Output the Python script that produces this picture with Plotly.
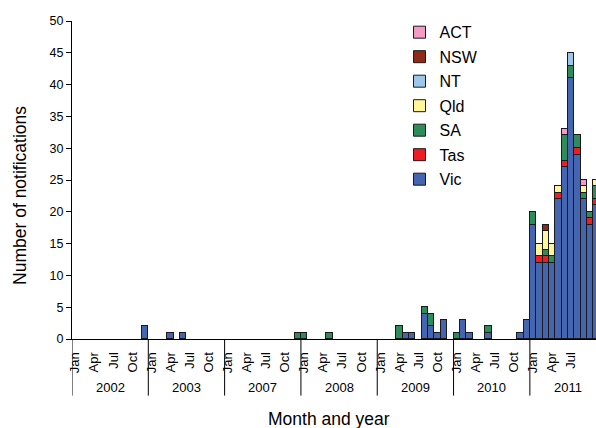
import plotly.graph_objects as go

years = ["2002", "2003", "2007", "2008", "2009", "2010", "2011"]
month_names = ["Jan", "Feb", "Mar", "Apr", "May", "Jun", "Jul", "Aug", "Sep", "Oct", "Nov", "Dec"]
labelled_months = ["Jan", "Apr", "Jul", "Oct"]

# Monthly notifications by state, one row of 12 months per year (2002, 2003, 2007, 2008, 2009, 2010, 2011)
vic = (
    [0, 0, 0, 0, 0, 0, 0, 0, 0, 0, 0, 2]
    + [0, 0, 0, 1, 0, 1, 0, 0, 0, 0, 0, 0]
    + [0, 0, 0, 0, 0, 0, 0, 0, 0, 0, 0, 0]
    + [0, 0, 0, 0, 0, 0, 0, 0, 0, 0, 0, 0]
    + [0, 0, 0, 0, 1, 1, 0, 4, 2, 1, 3, 0]
    + [0, 3, 1, 0, 0, 1, 0, 0, 0, 0, 1, 3]
    + [18, 12, 12, 12, 22, 27, 41, 29, 22, 18, 21, 0]
)
tas = [0] * 72 + [0, 1, 1, 0, 1, 1, 0, 1, 0, 1, 1, 0]
sa = (
    [0] * 12
    + [0] * 12
    + [0, 0, 0, 0, 0, 0, 0, 0, 0, 0, 0, 1]
    + [1, 0, 0, 0, 1, 0, 0, 0, 0, 0, 0, 0]
    + [0, 0, 0, 2, 0, 0, 0, 1, 2, 0, 0, 0]
    + [1, 0, 0, 0, 0, 1, 0, 0, 0, 0, 0, 0]
    + [2, 0, 1, 1, 0, 4, 2, 2, 1, 1, 2, 0]
)
qld = [0] * 72 + [0, 2, 3, 2, 1, 0, 0, 0, 1, 0, 1, 0]
nt = [0] * 72 + [0, 0, 0, 0, 0, 0, 2, 0, 0, 0, 0, 0]
nsw = [0] * 72 + [0, 0, 1, 0, 0, 0, 0, 0, 0, 0, 0, 0]
act = [0] * 72 + [0, 0, 0, 0, 0, 1, 0, 0, 1, 0, 0, 0]

series = [
    ("Vic", vic, "#4565B0"),
    ("Tas", tas, "#EE1D25"),
    ("SA", sa, "#2E8B5A"),
    ("Qld", qld, "#FFF599"),
    ("NT", nt, "#9DC6EA"),
    ("NSW", nsw, "#8E2A17"),
    ("ACT", act, "#F59AC4"),
]

n_months = len(years) * 12
x = list(range(n_months))

fig = go.Figure()
for i, (name, vals, color) in enumerate(series):
    fig.add_trace(go.Bar(
        x=x,
        y=[v if v else None for v in vals],
        name=name,
        legendgroup=name,
        legendrank=len(series) - i,
        marker=dict(color=color, line=dict(color="#1a1a1a", width=1)),
    ))

tickvals = []
ticktext = []
for k in range(len(years)):
    for m in labelled_months:
        tickvals.append(12 * k + month_names.index(m))
        ticktext.append(m)

font_family = "Liberation Sans, Arial, sans-serif"

shapes = []
for k in range(len(years) + 1):
    shapes.append(dict(type="line", xref="x", yref="paper",
                       x0=12 * k - 0.5, x1=12 * k - 0.5, y0=0, y1=-0.178,
                       line=dict(color="black", width=1)))

annotations = []
for k, yr in enumerate(years):
    annotations.append(dict(x=12 * k + 5.5, y=-0.151, xref="x", yref="paper",
                            text=yr, showarrow=False, xanchor="center", yanchor="middle",
                            font=dict(size=13, color="black", family=font_family)))
annotations.append(dict(x=-0.0992, y=0.45, xref="paper", yref="paper",
                        text="Number of notifications", textangle=-90, showarrow=False,
                        xanchor="center", yanchor="middle",
                        font=dict(size=17.5, color="black", family=font_family)))
annotations.append(dict(x=0.4905, y=-0.252, xref="paper", yref="paper",
                        text="Month and year", showarrow=False,
                        xanchor="center", yanchor="middle",
                        font=dict(size=17.5, color="black", family=font_family)))

fig.update_layout(
    width=596, height=428,
    margin=dict(l=72, r=0, t=21, b=89, autoexpand=False),
    paper_bgcolor="white", plot_bgcolor="white",
    barmode="stack", bargap=0,
    font=dict(family=font_family, color="black"),
    showlegend=True,
    legend=dict(x=0.625, y=1.018, xanchor="left", yanchor="top",
                traceorder="grouped", tracegroupgap=0.7,
                font=dict(size=16, color="black", family=font_family),
                bgcolor="rgba(0,0,0,0)"),
    xaxis=dict(range=[-0.5, 81.9], tickmode="array", tickvals=tickvals, ticktext=ticktext,
               tickangle=-90, ticks="", ticklabelstandoff=7,
               showline=True, linecolor="black", linewidth=1,
               showgrid=False, zeroline=False, automargin=False,
               tickfont=dict(size=13, color="black")),
    yaxis=dict(range=[0, 50], dtick=5, ticks="outside", ticklen=5, tickcolor="black",
               showline=True, linecolor="black", linewidth=1, showgrid=False, zeroline=False,
               automargin=False, tickfont=dict(size=12.5, color="black")),
    shapes=shapes,
    annotations=annotations,
)

fig.write_html(
    "out.html",
    config={"displayModeBar": False},
    post_script="document.body.style.margin='0';document.body.style.overflow='hidden';",
)
